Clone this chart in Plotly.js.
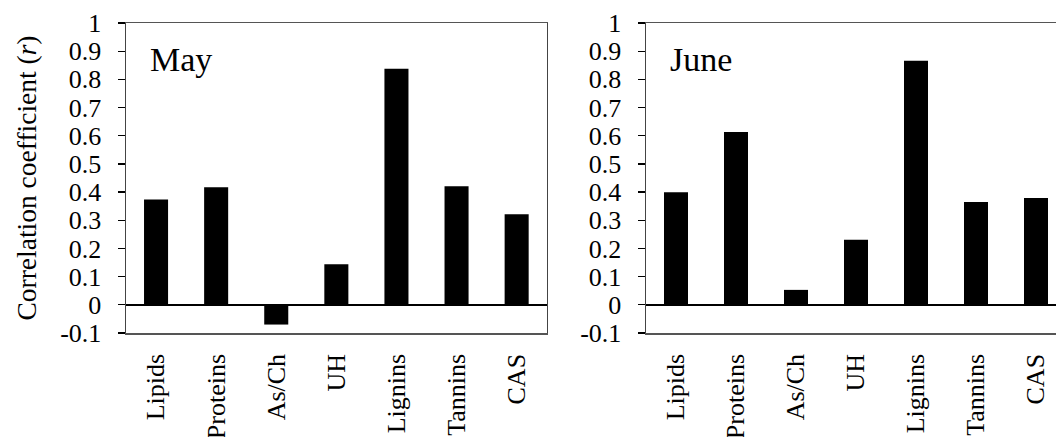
<!DOCTYPE html>
<html>
<head>
<meta charset="utf-8">
<script src="https://cdn.plot.ly/plotly-3.0.1.min.js"></script>
<style>
html, body { margin: 0; padding: 0; overflow: hidden; background: #fff; }
#chart { width: 1066px; height: 437px; }
</style>
</head>
<body>
<div id="chart"></div>
<script>
// Data
const categories = ["Lipids", "Proteins", "As/Ch", "UH", "Lignins", "Tannins", "CAS"];
const mayValues  = [0.374, 0.417, -0.070, 0.144, 0.838, 0.421, 0.321];
const juneValues = [0.399, 0.613, 0.053, 0.231, 0.866, 0.365, 0.379];
const yTickVals  = [-0.1, 0, 0.1, 0.2, 0.3, 0.4, 0.5, 0.6, 0.7, 0.8, 0.9, 1];
const yTickText  = ["-0.1", "0", "0.1", "0.2", "0.3", "0.4", "0.5", "0.6", "0.7", "0.8", "0.9", "1"];
const panelTitles = ["May", "June"];

const FONT = "'Liberation Serif', 'Times New Roman', serif";
const W = 1066;
const yRange = [-0.1, 1];
const zeroFrac = (0 - yRange[0]) / (yRange[1] - yRange[0]);
const boundaries = categories.slice(1).map((c, i) => i + 0.5);

const traces = [
  { type: "bar", x: categories, y: mayValues, xaxis: "x", yaxis: "y",
    marker: { color: "#000000", line: { width: 0 } }, hoverinfo: "x+y" },
  { type: "bar", x: categories, y: juneValues, xaxis: "x2", yaxis: "y2",
    marker: { color: "#000000", line: { width: 0 } }, hoverinfo: "x+y" }
];

function xLabelAxis(domain, anchor) {
  return {
    domain: domain, anchor: anchor, type: "category",
    categoryorder: "array", categoryarray: categories,
    range: [-0.5, categories.length - 0.5],
    showline: true, mirror: true, linecolor: "#555555", linewidth: 1.5,
    ticks: "", tickangle: -90, ticklabelstandoff: 9,
    tickfont: { family: FONT, size: 26, color: "#000" },
    showgrid: false, zeroline: false, fixedrange: true
  };
}
function xTickAxis(domain, overlay, pos) {
  return {
    domain: domain, overlaying: overlay, anchor: "free", position: pos,
    type: "linear", range: [-0.5, categories.length - 0.5],
    tickmode: "array", tickvals: boundaries, showticklabels: false,
    ticks: "outside", ticklen: 7, tickwidth: 1.3, tickcolor: "#000",
    showline: false, showgrid: false, zeroline: false, fixedrange: true
  };
}
function yAxis(anchor, withTitle) {
  const ax = {
    anchor: anchor, domain: [0, 1], range: yRange,
    tickmode: "array", tickvals: yTickVals, ticktext: yTickText,
    ticks: "outside", ticklen: 7, tickwidth: 1.3, tickcolor: "#000",
    ticklabelstandoff: 11,
    tickfont: { family: FONT, size: 26, color: "#000" },
    showline: true, mirror: true, linecolor: "#444444", linewidth: 1.5,
    showgrid: false, zeroline: true, zerolinecolor: "#000", zerolinewidth: 2,
    fixedrange: true
  };
  if (withTitle) {
    ax.title = { text: "Correlation coefficient (<i>r</i>)",
                 font: { family: FONT, size: 27.5, color: "#000" }, standoff: 15 };
  }
  return ax;
}

const leftDom = [126 / W, 546.7 / W];
const rightDom = [646 / W, 1];

const layout = {
  width: W, height: 437,
  margin: { l: 0, r: 0, t: 23, b: 104 },
  paper_bgcolor: "#fff", plot_bgcolor: "#fff",
  showlegend: false, bargap: 0.6,
  font: { family: FONT, color: "#000" },
  xaxis: xLabelAxis(leftDom, "y"),
  yaxis: yAxis("x", true),
  xaxis2: xLabelAxis(rightDom, "y2"),
  yaxis2: yAxis("x2", false),
  xaxis3: xTickAxis(leftDom, "x", zeroFrac),
  xaxis4: xTickAxis(rightDom, "x2", zeroFrac),
  annotations: panelTitles.map((t, i) => ({
    text: t, showarrow: false,
    xref: (i === 0 ? "x" : "x2") + " domain", x: 0.052, xanchor: "left",
    yref: "paper", y: 0.882, yanchor: "middle",
    font: { family: FONT, size: 34, color: "#000" }
  }))
};

Plotly.newPlot("chart", traces, layout, { displayModeBar: false, staticPlot: true });
</script>
</body>
</html>
